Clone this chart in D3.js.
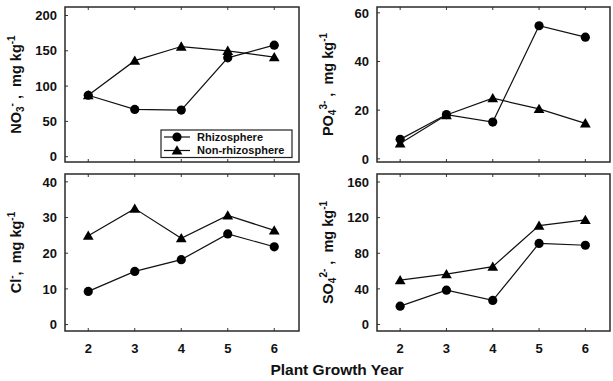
<!DOCTYPE html>
<html><head><meta charset="utf-8">
<script src="https://cdn.jsdelivr.net/npm/d3@7"></script>
<style>body{margin:0;background:#fff}svg{display:block}text{font-family:Arial,"Liberation Sans",sans-serif;font-weight:bold;fill:#111}</style>
</head><body><svg id="c" width="613" height="381"></svg>
<script>
const years = [2, 3, 4, 5, 6];
const no3Rhizo = [87, 67, 66, 140, 158];
const no3Non = [87, 136, 156, 150, 141];
const po4Rhizo = [8, 18.2, 15.1, 54.7, 50];
const po4Non = [6.3, 18, 24.9, 20.5, 14.6];
const clRhizo = [9.3, 14.9, 18.2, 25.4, 21.8];
const clNon = [24.9, 32.5, 24.2, 30.6, 26.4];
const so4Rhizo = [20.6, 38.5, 27, 91, 89];
const so4Non = [49.8, 56.5, 65, 111, 117.5];
const seriesNames = ["Rhizosphere", "Non-rhizosphere"];
const no3Ticks = [0, 50, 100, 150, 200];
const po4Ticks = [0, 20, 40, 60];
const clTicks = [0, 10, 20, 30, 40];
const so4Ticks = [0, 40, 80, 120, 160];
const xLabel = "Plant Growth Year";

const svg = d3.select("#c");
const NB = "\u00a0";
const panels = [
  {x0: 65, x1: 299, y0: 7, y1: 162, dom: [-7.5, 212], ticks: no3Ticks, r: no3Rhizo, n: no3Non,
   label: [["NO",0],["3",-1],["-",1],[NB+","+NB+NB+"mg kg",0],["-1",1]], lx: 21, legend: true, xt: false},
  {x0: 377, x1: 610, y0: 7, y1: 162, dom: [-1.3, 62.4], ticks: po4Ticks, r: po4Rhizo, n: po4Non,
   label: [["PO",0],["4",-1],["3-",1],[NB+","+NB+NB+"mg kg",0],["-1",1]], lx: 333, legend: false, xt: false},
  {x0: 65, x1: 299, y0: 174, y1: 331, dom: [-1.8, 42.2], ticks: clTicks, r: clRhizo, n: clNon,
   label: [["Cl",0],["-",1],[","+NB+NB+"mg kg",0],["-1",1]], lx: 21, legend: false, xt: true},
  {x0: 377, x1: 610, y0: 174, y1: 331, dom: [-7.3, 169], ticks: so4Ticks, r: so4Rhizo, n: so4Non,
   label: [["SO",0],["4",-1],["2-",1],[NB+","+NB+NB+"mg kg",0],["-1",1]], lx: 333, legend: false, xt: true}
];

const tri = d3.symbol().type(d3.symbolTriangle).size(50);

panels.forEach(p => {
  const x = d3.scaleLinear().domain([1.5, 6.5]).range([p.x0, p.x1 - 1.5]);
  const y = d3.scaleLinear().domain(p.dom).range([p.y1, p.y0]);
  const g = svg.append("g");
  p.ticks.forEach(t => {
    g.append("line").attr("x1", p.x0).attr("x2", p.x0 + 3).attr("y1", y(t)).attr("y2", y(t)).attr("stroke", "#333").attr("stroke-width", 1);
    g.append("text").attr("x", p.x0 - 8).attr("y", y(t)).attr("dy", "0.36em").attr("text-anchor", "end")
      .attr("font-size", 13).text(t);
  });
  years.forEach(v => {
    g.append("line").attr("x1", x(v)).attr("x2", x(v)).attr("y1", p.y1).attr("y2", p.y1 - 3).attr("stroke", "#333");
    g.append("line").attr("x1", x(v)).attr("x2", x(v)).attr("y1", p.y0).attr("y2", p.y0 + 3).attr("stroke", "#333");
    if (p.xt) g.append("text").attr("x", x(v)).attr("y", 348).attr("dy", "0.36em").attr("text-anchor", "middle")
      .attr("font-size", 13).text(v);
  });
  g.append("rect").attr("x", p.x0).attr("y", p.y0).attr("width", p.x1 - p.x0).attr("height", p.y1 - p.y0)
    .attr("fill", "none").attr("stroke", "#2a2a2a").attr("stroke-width", 1.5);
  const line = d3.line().x((d, i) => x(years[i])).y(d => y(d));
  [p.r, p.n].forEach((s, k) => {
    g.append("path").attr("d", line(s)).attr("fill", "none").attr("stroke", "#111").attr("stroke-width", 1.2);
    s.forEach((d, i) => {
      if (k === 0) g.append("circle").attr("cx", x(years[i])).attr("cy", y(d)).attr("r", 4.6).attr("fill", "#000");
      else g.append("path").attr("d", tri).attr("transform", `translate(${x(years[i])},${y(d) + 1})`).attr("fill", "#000");
    });
  });
  const cy = (p.y0 + p.y1) / 2;
  const t = g.append("text").attr("transform", `translate(${p.lx},${cy}) rotate(-90)`).attr("text-anchor", "middle")
    .attr("font-size", 14.5);
  p.label.forEach(([s, b]) => {
    const ts = t.append("tspan").text(s);
    if (b !== 0) ts.attr("font-size", 10).attr("baseline-shift", b > 0 ? "60%" : "-30%");
  });
  if (p.legend) {
    const lg = g.append("g");
    lg.append("rect").attr("x", 161).attr("y", 130).attr("width", 131).attr("height", 27.5)
      .attr("fill", "#fff").attr("stroke", "#222").attr("stroke-width", 1.2);
    seriesNames.forEach((nm, k) => {
      const yy = 137 + k * 13.5;
      lg.append("line").attr("x1", 164).attr("x2", 190).attr("y1", yy).attr("y2", yy).attr("stroke", "#111").attr("stroke-width", 1.2);
      if (k === 0) lg.append("circle").attr("cx", 177).attr("cy", yy).attr("r", 4.6).attr("fill", "#000");
      else lg.append("path").attr("d", tri).attr("transform", `translate(177,${yy + 1})`).attr("fill", "#000");
      lg.append("text").attr("x", 197).attr("y", yy).attr("dy", "0.36em").attr("font-size", 11).text(nm);
    });
  }
});
svg.append("text").attr("x", 337).attr("y", 369).attr("dy", "0.36em").attr("text-anchor", "middle")
  .attr("font-size", 15.5).text(xLabel);
</script></body></html>
